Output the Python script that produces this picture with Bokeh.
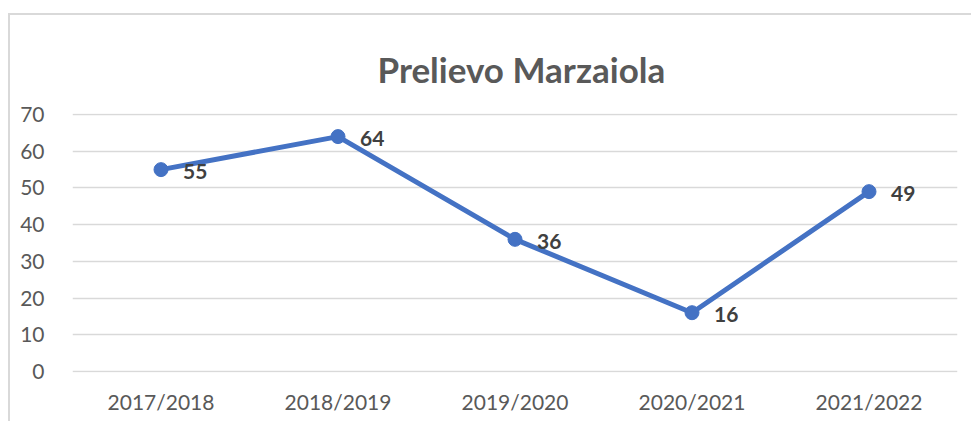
from bokeh.plotting import figure
from bokeh.models import ColumnDataSource, FixedTicker, Title
from bokeh.core.properties import value
from bokeh.embed import file_html
from bokeh.resources import INLINE

seasons = ["2017/2018", "2018/2019", "2019/2020", "2020/2021", "2021/2022"]
prelievo = [55, 64, 36, 16, 49]
y_ticks = [0, 10, 20, 30, 40, 50, 60, 70]
title_text = "Prelievo Marzaiola"

src = ColumnDataSource(dict(x=seasons, y=prelievo, lab=[str(v) for v in prelievo]))

p = figure(x_range=seasons, y_range=(-0.3, 70.3), width=963, height=408,
           output_backend="svg", toolbar_location=None,
           min_border_left=62, min_border_right=16, min_border_bottom=51, min_border_top=98,
           margin=(13, 0, 0, 8),
           styles={"border-top": "2px solid #d9d9d9", "border-left": "2px solid #d9d9d9"})
p.x_range.range_padding = 0

t = Title(text=title_text, align="left", vertical_align="top", text_font="Lato",
          text_font_size="35px", text_font_style="bold", text_color="#595959",
          standoff=44, offset=305)
p.add_layout(t, "above")

p.outline_line_color = None
p.background_fill_color = "white"
p.border_fill_color = "white"

p.xgrid.grid_line_color = None
p.ygrid.grid_line_color = "#d9d9d9"
p.ygrid.grid_line_width = 1.5
p.yaxis.ticker = FixedTicker(ticks=y_ticks)

for ax in (p.xaxis[0], p.yaxis[0]):
    ax.axis_line_color = None
    ax.major_tick_line_color = None
    ax.minor_tick_line_color = None
    ax.major_label_text_font = "Lato"
    ax.major_label_text_font_size = "21px"
    ax.major_label_text_color = "#595959"
p.yaxis.major_label_standoff = 22
p.xaxis.major_label_standoff = 10

p.line("x", "y", source=src, line_color="#4472C4", line_width=5)
p.scatter("x", "y", source=src, size=14, fill_color="#4472C4", line_color="#4472C4")
p.text("x", "y", text="lab", source=src, x_offset=22, y_offset=2,
       text_align="left", text_baseline="middle", text_font=value("Lato"),
       text_font_size="21px", text_font_style="bold", text_color="#404040")

open("out.html", "w").write(file_html(p, INLINE))
